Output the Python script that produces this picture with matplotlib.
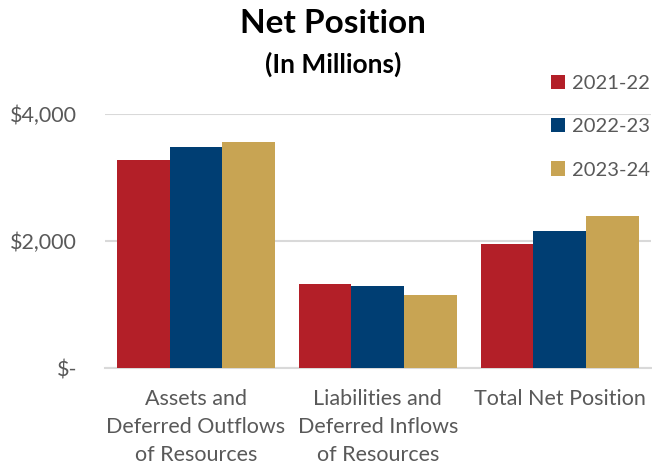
import matplotlib

matplotlib.use("Agg")
import matplotlib.pyplot as plt
import numpy as np
from matplotlib.ticker import FuncFormatter

categories = [
    "Assets and\nDeferred Outflows\nof Resources",
    "Liabilities and\nDeferred Inflows\nof Resources",
    "Total Net Position",
]
years = ["2021-22", "2022-23", "2023-24"]
values_2122 = [3280, 1323, 1953]
values_2223 = [3480, 1301, 2157]
values_2324 = [3559, 1150, 2403]
colors = ["#B31F28", "#003E73", "#C8A453"]
yticks = [0, 2000, 4000]

plt.rcParams["font.family"] = ["Lato", "DejaVu Sans"]

fig = plt.figure(figsize=(6.52, 4.68), dpi=100)
ax = fig.add_axes([0.161, 0.213, 0.837, 0.543])

x = np.arange(len(categories))
width = 0.29
series = [values_2122, values_2223, values_2324]
for i, (vals, label, color) in enumerate(zip(series, years, colors)):
    ax.bar(x + (i - 1) * width, vals, width, color=color, label=label, zorder=3)

ax.set_xlim(-0.5, 2.5)
ax.set_ylim(0, 4000)
ax.set_yticks(yticks)
ax.yaxis.set_major_formatter(
    FuncFormatter(lambda v, _: "$-" if v == 0 else f"${v:,.0f}")
)
ax.set_xticks(x)
ax.set_xticklabels(categories, linespacing=1.5, va="top")
ax.tick_params(axis="both", length=0, colors="#595959", labelsize=15.5)
ax.tick_params(axis="y", pad=20)
ax.tick_params(axis="x", pad=15)
for label in ax.get_xticklabels() + ax.get_yticklabels():
    label.set_color("#595959")
ax.grid(axis="y", color="#D9D9D9", linewidth=1.5, zorder=0)
for spine in ["top", "right", "left"]:
    ax.spines[spine].set_visible(False)
ax.spines["bottom"].set_color("#D9D9D9")
ax.spines["bottom"].set_linewidth(1.5)

fig.text(0.511, 0.949, "Net Position", ha="center", va="center",
         fontsize=24, fontweight="bold", color="black")
fig.text(0.511, 0.862, "(In Millions)", ha="center", va="center",
         fontsize=19, fontweight="bold", color="black")

fig.legend(loc="upper left", bbox_to_anchor=(0.845, 0.84), frameon=False,
           fontsize=14.5, labelcolor="#595959", handlelength=0.7,
           handleheight=0.7, handletextpad=0.35, labelspacing=1.3,
           borderpad=0, borderaxespad=0)

fig.savefig("out.png", dpi=100)
plt.close(fig)
